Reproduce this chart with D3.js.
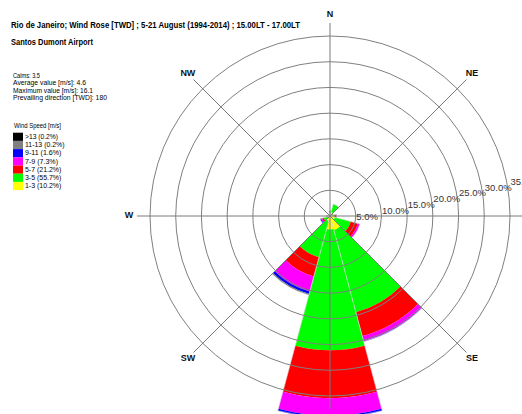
<!DOCTYPE html>
<html><head><meta charset="utf-8">
<script src="https://cdn.jsdelivr.net/npm/d3@7"></script>
<style>body{margin:0;background:#fff}svg{display:block}text{font-family:"Liberation Sans",Arial,sans-serif}</style>
</head><body><svg id="c" width="522" height="414"></svg>
<script>
// ---- data ----
const directions = [0, 30, 60, 90, 120, 150, 180, 210, 240, 270, 300, 330];
const speedBins = ["1-3", "3-5", "5-7", "7-9", "9-11", "11-13", ">13"];
const binColors = ["#ffff00", "#00ff00", "#ff0000", "#ff00ff", "#0000ff", "#808080", "#000000"];
const binShares = [10.2, 55.7, 21.2, 7.3, 1.6, 0.2, 0.2];
const s1_3   = [0.4, 0.8, 0.3, 0.3, 1.0, 2.8, 2.6, 1.0, 0.5, 0.3, 0.2, 0.2];
const s3_5   = [0.6, 1.6, 0.3, 0.6, 3.2, 16.6, 23.5, 7.3, 0.8, 0.2, 0.1, 0.2];
const s5_7   = [0, 0, 0.1, 0.3, 1.4, 4.8, 9.3, 3.9, 0.3, 0.1, 0, 0];
const s7_9   = [0, 0, 0, 0.1, 0.4, 1.0, 3.4, 3.0, 0.2, 0.1, 0, 0];
const s9_11  = [0, 0, 0, 0, 0, 0.1, 0.4, 0.5, 0.2, 0, 0, 0];
const s11_13 = [0, 0, 0, 0, 0, 0, 0, 0.1, 0, 0, 0, 0];
const s13p   = [0, 0, 0, 0, 0, 0, 0, 0.1, 0, 0, 0, 0];
const ringTicks = [5, 10, 15, 20, 25, 30, 35];
const compassSpokes = [0, 45, 90, 135, 180, 225, 270, 315];
const compassLabels = [["N",0],["NE",45],["SE",135],["SW",225],["W",270],["NW",315]];
const statsLines = ["Calms:  3.5", "Average value [m/s]:  4.6", "Maximum value [m/s]:  16.1", "Prevailing direction [TWD]:  180"];
const titleText = "Rio de Janeiro; Wind Rose [TWD] ; 5-21 August (1994-2014) ; 15.00LT - 17.00LT";
const subTitle = "Santos Dumont Airport";

// ---- layout ----
const svg = d3.select("#c");
const cx = 330, cy = 216;
const r = d3.scaleLinear().domain([0, 35]).range([0, 180]);
const series = [s1_3, s3_5, s5_7, s7_9, s9_11, s11_13, s13p];
const toRad = d => d * Math.PI / 180;
const half = 15;

const g = svg.append("g").attr("transform", `translate(${cx},${cy})`);
const arc = d3.arc();

// wedges
directions.forEach((dir, i) => {
  let cum = 0;
  series.forEach((s, b) => {
    const v = s[i];
    if (v <= 0) return;
    g.append("path")
      .attr("d", arc({innerRadius: r(cum), outerRadius: r(cum + v), startAngle: toRad(dir - half), endAngle: toRad(dir + half)}))
      .attr("fill", binColors[b]);
    cum += v;
  });
  if (cum > 0) {
    g.append("path")
      .attr("d", arc({innerRadius: 0, outerRadius: r(cum), startAngle: toRad(dir - half), endAngle: toRad(dir + half)}))
      .attr("fill", "none").attr("stroke", "#d8d8d8").attr("stroke-width", 0.6);
  }
});

// rings
g.selectAll("circle.ring").data(ringTicks).join("circle")
  .attr("r", d => r(d)).attr("fill", "none").attr("stroke", "#808080").attr("stroke-width", 1);

// spokes
compassSpokes.forEach(a => {
  const L = 193;
  g.append("line").attr("x1", 0).attr("y1", 0)
    .attr("x2", L * Math.sin(toRad(a))).attr("y2", -L * Math.cos(toRad(a)))
    .attr("stroke", "#7a7a7a").attr("stroke-width", 1);
});
compassLabels.forEach(([lab, a]) => {
  const R = 201;
  g.append("text").attr("x", R * Math.sin(toRad(a))).attr("y", -R * Math.cos(toRad(a)))
    .attr("text-anchor", "middle").attr("dominant-baseline", "middle")
    .attr("font-size", 9).attr("font-weight", "bold").attr("fill", "#111").text(lab);
});

// ring labels
ringTicks.forEach((t, k) => {
  g.append("text").attr("x", r(t) + 0.5).attr("y", -5.8 * k + 3.5)
    .attr("font-size", 9.5).attr("fill", "#333").text(t.toFixed(1) + "%");
});

// titles
svg.append("text").attr("x", 11).attr("y", 28).attr("font-size", 9).attr("font-weight", "bold")
  .attr("textLength", 289).attr("lengthAdjust", "spacingAndGlyphs").text(titleText);
svg.append("text").attr("x", 11).attr("y", 45).attr("font-size", 9).attr("font-weight", "bold")
  .attr("textLength", 82).attr("lengthAdjust", "spacingAndGlyphs").text(subTitle);

// stats
const statW = [27, 73, 80, 94];
statsLines.forEach((s, i) => {
  svg.append("text").attr("x", 13).attr("y", 78 + i * 7.3).attr("font-size", 6.6)
    .attr("textLength", statW[i]).attr("lengthAdjust", "spacingAndGlyphs").text(s);
});

// legend
svg.append("text").attr("x", 14).attr("y", 127.5).attr("font-size", 7.5)
  .attr("textLength", 47).attr("lengthAdjust", "spacingAndGlyphs").text("Wind Speed [m/s]");
const legendOrder = d3.range(speedBins.length).reverse();
const rowH = 8.2, top0 = 132.7;
legendOrder.forEach((b, j) => {
  svg.append("rect").attr("x", 13).attr("y", top0 + j * rowH).attr("width", 10).attr("height", rowH)
    .attr("fill", binColors[b]);
  const lab = `${speedBins[b]} (${binShares[b].toFixed(1)}%)`;
  svg.append("text").attr("x", 25).attr("y", top0 + j * rowH + 6.2).attr("font-size", 7.5)
    .attr("textLength", lab.length * 3.3).attr("lengthAdjust", "spacingAndGlyphs").text(lab);
});
</script></body></html>
